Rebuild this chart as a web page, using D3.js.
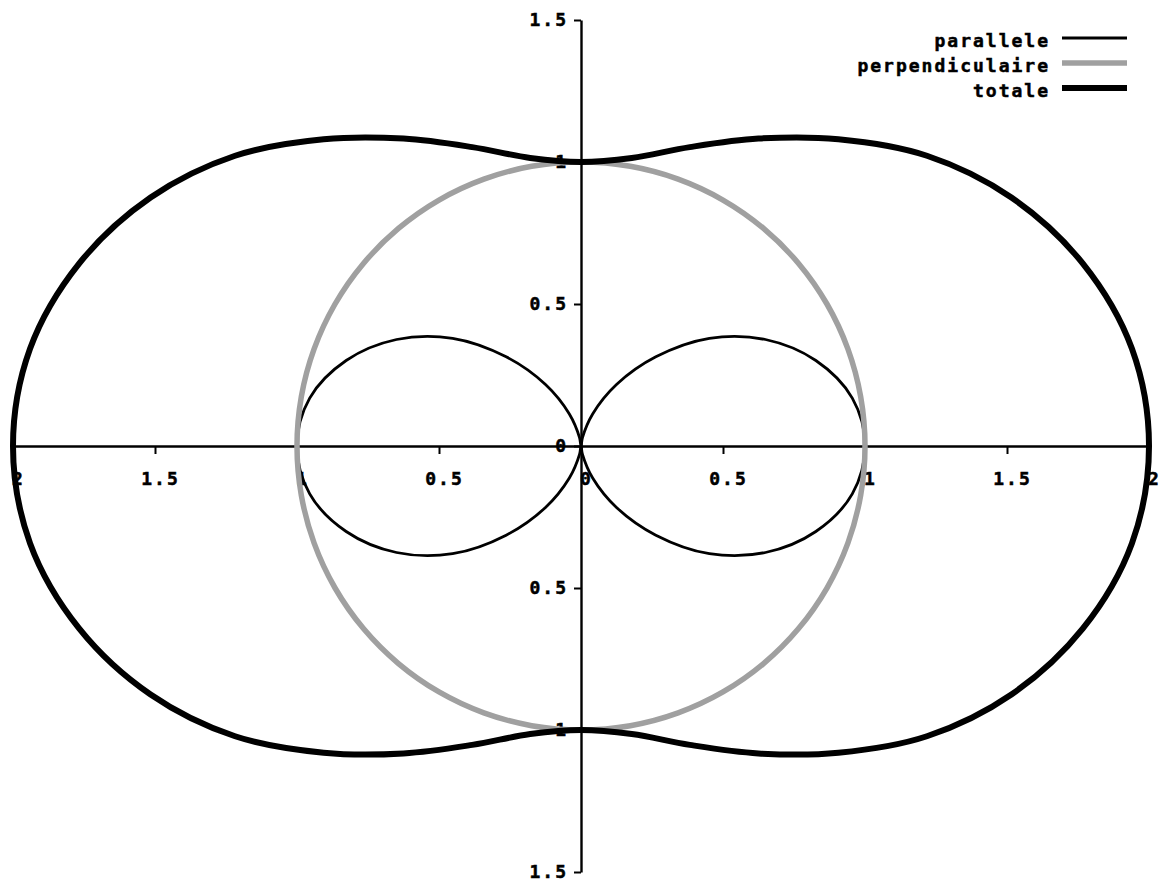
<!DOCTYPE html>
<html>
<head>
<meta charset="utf-8">
<script src="https://cdn.jsdelivr.net/npm/d3@7"></script>
<style>
  html, body { margin: 0; padding: 0; background: #ffffff; }
  svg { display: block; }
  text { font-family: "DejaVu Sans Mono", "Liberation Mono", monospace; font-weight: bold; font-size: 18px; letter-spacing: 2px; fill: #000; stroke: #000; stroke-width: 0.5px; }
</style>
</head>
<body>
<svg id="chart" width="1163" height="886"></svg>
<script>
// ---- data (angle in degrees, radius) ----
const angles = [0,10,20,30,40,50,60,70,80,90,100,110,120,130,140,150,160,170,
                180,190,200,210,220,230,240,250,260,270,280,290,300,310,320,330,340,350];
const rParallele = [1.00,0.97,0.88,0.75,0.59,0.41,0.25,0.12,0.03,0.00,0.03,0.12,0.25,0.41,0.59,0.75,0.88,0.97,
                    1.00,0.97,0.88,0.75,0.59,0.41,0.25,0.12,0.03,0.00,0.03,0.12,0.25,0.41,0.59,0.75,0.88,0.97];
const rPerpendiculaire = [1,1,1,1,1,1,1,1,1,1,1,1,1,1,1,1,1,1,
                          1,1,1,1,1,1,1,1,1,1,1,1,1,1,1,1,1,1];
const rTotale = [2.00,1.97,1.88,1.75,1.59,1.41,1.25,1.12,1.03,1.00,1.03,1.12,1.25,1.41,1.59,1.75,1.88,1.97,
                 2.00,1.97,1.88,1.75,1.59,1.41,1.25,1.12,1.03,1.00,1.03,1.12,1.25,1.41,1.59,1.75,1.88,1.97];
const seriesNames = ["parallele", "perpendiculaire", "totale"];
const xTickValues = [-2,-1.5,-1,-0.5,0,0.5,1,1.5,2];
const yTickValues = [-1.5,-1,-0.5,0,0.5,1,1.5];

// ---- styles ----
const seriesStyle = {
  parallele:       { color: "#000000", width: 2.8 },
  perpendiculaire: { color: "#a0a0a0", width: 5.5 },
  totale:          { color: "#000000", width: 6 }
};
const seriesData = { parallele: rParallele, perpendiculaire: rPerpendiculaire, totale: rTotale };

const svg = d3.select("#chart");
const x = d3.scaleLinear().domain([-2, 2]).range([13, 1149]);
const y = d3.scaleLinear().domain([-1.5, 1.5]).range([872, 20]);
const fmt = v => String(Math.abs(v));

// x axis
const gx = svg.append("g").attr("transform", `translate(0,${y(0)})`)
  .call(d3.axisBottom(x).tickValues(xTickValues).tickFormat(fmt).tickSize(8).tickSizeOuter(0).tickPadding(18));
gx.select(".domain").attr("stroke", "#000").attr("stroke-width", 2.4);
gx.selectAll(".tick line").attr("stroke", "#000").attr("stroke-width", 2);
gx.selectAll(".tick text").attr("dx", 5);

// y axis
const gy = svg.append("g").attr("transform", `translate(${x(0)},0)`)
  .call(d3.axisLeft(y).tickValues(yTickValues).tickFormat(fmt).tickSize(7).tickSizeOuter(0).tickPadding(6));
gy.select(".domain").attr("stroke", "#000").attr("stroke-width", 2.4);
gy.selectAll(".tick line").attr("stroke", "#000").attr("stroke-width", 2);
svg.selectAll("g").attr("font-size", null).attr("font-family", null);

// curves
const line = d3.line()
  .x(d => x(d.r * Math.cos(d.a * Math.PI / 180)))
  .y(d => y(d.r * Math.sin(d.a * Math.PI / 180)))
  .curve(d3.curveCatmullRomClosed.alpha(0.5));

seriesNames.forEach(name => {
  const pts = angles.map((a, i) => ({ a: a, r: seriesData[name][i] }));
  svg.append("path")
    .datum(pts)
    .attr("d", line)
    .attr("fill", "none")
    .attr("stroke", seriesStyle[name].color)
    .attr("stroke-width", seriesStyle[name].width)
    .attr("stroke-linejoin", "round");
});

// legend
const legend = svg.append("g");
seriesNames.forEach((name, i) => {
  const ly = 38 + i * 25;
  legend.append("text")
    .attr("x", 1050)
    .attr("y", ly + 9)
    .attr("text-anchor", "end")
    .text(name);
  legend.append("line")
    .attr("x1", 1062).attr("x2", 1127)
    .attr("y1", ly).attr("y2", ly)
    .attr("stroke", seriesStyle[name].color)
    .attr("stroke-width", seriesStyle[name].width);
});
</script>
</body>
</html>
